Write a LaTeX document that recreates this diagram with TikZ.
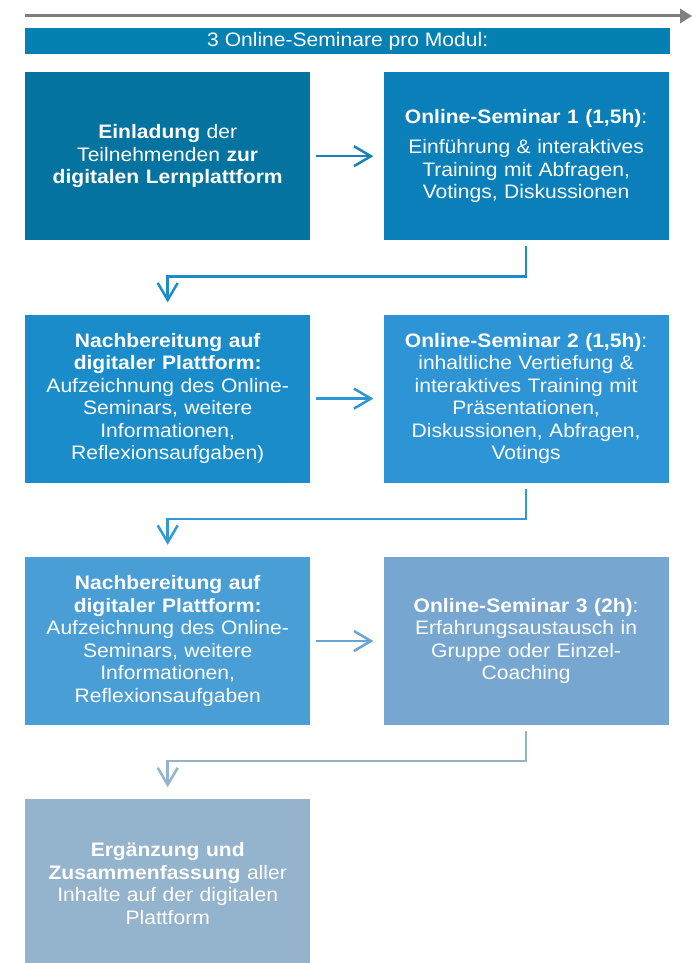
\documentclass[tikz,border=0pt]{standalone}
\usepackage{fontspec}
\setmainfont{Liberation Sans}[FakeStretch=1.08]
\usetikzlibrary{arrows.meta,positioning}

\definecolor{banner}{HTML}{0580B3}
\definecolor{boxA}{HTML}{05739F}
\definecolor{boxB}{HTML}{0A7FBA}
\definecolor{boxC}{HTML}{1A8CCA}
\definecolor{boxD}{HTML}{2D95D6}
\definecolor{boxE}{HTML}{4A9ED6}
\definecolor{boxF}{HTML}{77A7D0}
\definecolor{boxG}{HTML}{94B3CD}
\definecolor{timegray}{HTML}{7F7F7F}
\definecolor{arrowA}{HTML}{1A80B8}
\definecolor{arrowB}{HTML}{1B8CC8}
\definecolor{arrowC}{HTML}{2E96D6}
\definecolor{arrowD}{HTML}{3399D6}
\definecolor{arrowE}{HTML}{6AA4D4}

\tikzstyle{rec} = [rectangle, minimum width=285pt, minimum height=168pt, align=center, text width=282pt, inner sep=0pt, text=white, font=\fontsize{19.5}{22.5}\selectfont]
\tikzstyle{flow} = [line width=2.5pt, -{Straight Barb[length=17pt,width=20pt]}]

\begin{document}
\begin{tikzpicture}[x=1pt,y=1pt,node distance=74pt and 73pt]
  \useasboundingbox (0,0) rectangle (692,-963);

  % timeline on top
  \coordinate (tlstart) at (25,-16);
  \coordinate (tlend) at (692,-16);
  \draw[timegray, line width=3pt, -{Triangle[length=12pt,width=14pt]}] (tlstart) -- (tlend);

  \node (Banner) [rectangle, fill=banner, text=white, minimum width=645pt, minimum height=26pt, inner sep=0pt, anchor=north west, font=\fontsize{19.5}{22}\selectfont] at (25,-28) {3 Online-Seminare pro Modul:};

  \node (Einladung) [rec, fill=boxA, anchor=north west] at (25,-72) {\textbf{Einladung} der\\ Teilnehmenden \textbf{zur}\\ \textbf{digitalen Lernplattform}};
  \node (Seminar1) [rec, fill=boxB, right = of Einladung] {\textbf{Online-Seminar 1 (1,5h)}:\\[8pt] Einführung \& interaktives\\ Training mit Abfragen,\\ Votings, Diskussionen};
  \node (Nachbereitung1) [rec, fill=boxC, below = of Einladung] {\textbf{Nachbereitung auf}\\ \textbf{digitaler Plattform:}\\ Aufzeichnung des Online-\\ Seminars, weitere\\ Informationen,\\ Reflexionsaufgaben)};
  \node (Seminar2) [rec, fill=boxD, right = of Nachbereitung1] {\textbf{Online-Seminar 2 (1,5h)}:\\ inhaltliche Vertiefung \&\\ interaktives Training mit\\ Präsentationen,\\ Diskussionen, Abfragen,\\ Votings};
  \node (Nachbereitung2) [rec, fill=boxE, below = of Nachbereitung1] {\textbf{Nachbereitung auf}\\ \textbf{digitaler Plattform:}\\ Aufzeichnung des Online-\\ Seminars, weitere\\ Informationen,\\ Reflexionsaufgaben};
  \node (Seminar3) [rec, fill=boxF, right = of Nachbereitung2] {\textbf{Online-Seminar 3 (2h)}:\\ Erfahrungsaustausch in\\ Gruppe oder Einzel-\\ Coaching};
  \node (Ergaenzung) [rec, fill=boxG, below = of Nachbereitung2] {\textbf{Ergänzung und}\\ \textbf{Zusammenfassung} aller\\ Inhalte auf der digitalen\\ Plattform};

  % arrows between the boxes
  \draw[flow, arrowA] ([xshift=6pt]Einladung.east) -- ([xshift=-10pt]Seminar1.west);
  \draw[flow, arrowB] ([yshift=-6pt]Seminar1.south) -- ++(0,-30) -| ([yshift=12pt]Nachbereitung1.north);
  \draw[flow, arrowC] ([xshift=6pt]Nachbereitung1.east) -- ([xshift=-10pt]Seminar2.west);
  \draw[flow, arrowD] ([yshift=-6pt]Seminar2.south) -- ++(0,-30) -| ([yshift=12pt]Nachbereitung2.north);
  \draw[flow, arrowE] ([xshift=6pt]Nachbereitung2.east) -- ([xshift=-10pt]Seminar3.west);
  \draw[flow, boxG] ([yshift=-6pt]Seminar3.south) -- ++(0,-30) -| ([yshift=12pt]Ergaenzung.north);
\end{tikzpicture}
\end{document}
